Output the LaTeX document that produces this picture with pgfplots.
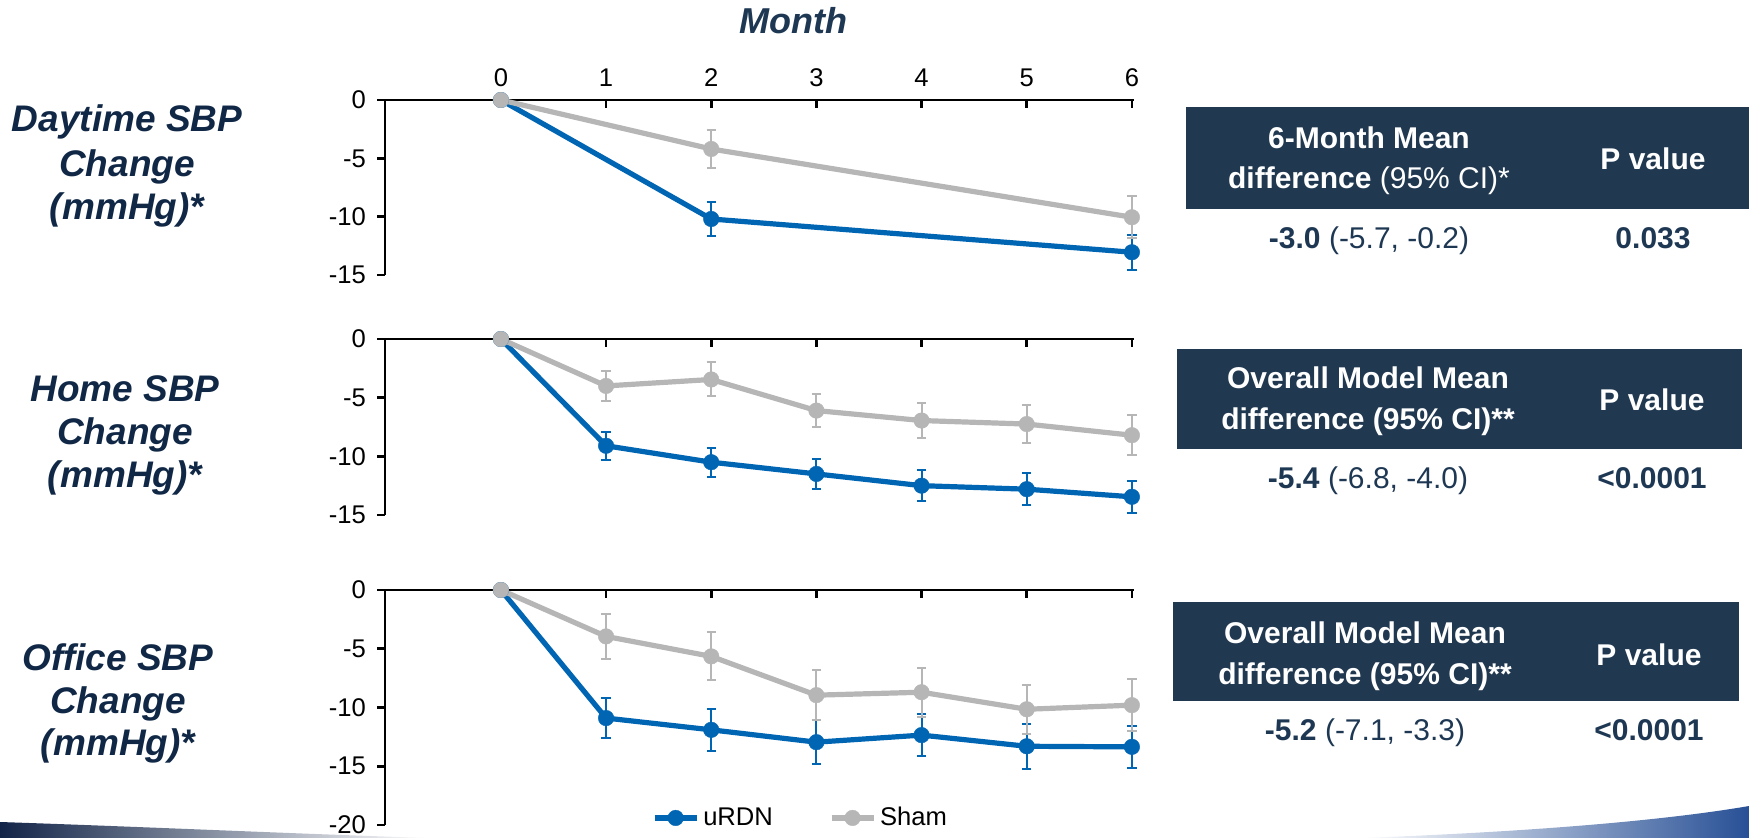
\documentclass[border=0pt]{standalone}
\usepackage{pgfplots}
\usepackage{pgfplotstable}
\pgfplotsset{compat=1.18}
\usepackage{fontspec}
\setmainfont{Liberation Sans}
\definecolor{urdn}{RGB}{0,101,179}
\definecolor{sham}{RGB}{182,182,182}
\definecolor{navy}{RGB}{16,40,70}
\definecolor{navyb}{RGB}{30,56,84}
\definecolor{boxnavy}{RGB}{32,56,80}
\definecolor{swooshA}{RGB}{18,36,72}
\definecolor{swooshB}{RGB}{40,80,150}

% ---------- data: x, mean, half-width of error bar ----------
\pgfplotstableread{
x y e
0 0 0
2 -10.2 1.45
6 -13.05 1.5
}\dayU
\pgfplotstableread{
x y e
0 0 0
2 -4.2 1.65
6 -10.05 1.8
}\dayS
\pgfplotstableread{
x y e
0 0 0
1 -9.1 1.2
2 -10.5 1.25
3 -11.5 1.3
4 -12.5 1.3
5 -12.8 1.35
6 -13.45 1.35
}\homeU
\pgfplotstableread{
x y e
0 0 0
1 -4.0 1.3
2 -3.45 1.45
3 -6.1 1.4
4 -6.95 1.5
5 -7.25 1.6
6 -8.2 1.7
}\homeS
\pgfplotstableread{
x y e
0 0 0
1 -10.9 1.7
2 -11.9 1.8
3 -12.95 1.85
4 -12.35 1.8
5 -13.3 1.9
6 -13.35 1.8
}\offU
\pgfplotstableread{
x y e
0 0 0
1 -3.95 1.95
2 -5.65 2.05
3 -8.95 2.1
4 -8.7 2.1
5 -10.15 2.1
6 -9.8 2.2
}\offS

\pgfplotsset{
  panel/.style={
    scale only axis, width=374.5pt, clip=false,
    xmin=-1.102, xmax=6.02,
    axis x line*=top, axis y line*=left,
    xtick={0,...,6}, xtick align=inside, ytick align=outside,
    major tick length=4pt,
    axis line style={line width=1.4pt, black},
    major tick style={line width=1.3pt, black},
    /pgf/number format/assume math mode=true,
    ticklabel style={font=\fontsize{12.8}{14}\selectfont, text=black},
    yticklabel style={xshift=-2pt},
  },
  ser/.style={color=#1, line width=2.6pt, mark=*, mark size=3.9pt,
    mark options={fill=#1, draw=#1, line width=0.2pt},
    error bars/.cd, y dir=both, y explicit,
    error bar style={line width=1pt, color=#1},
    error mark options={rotate=90, mark size=2.3pt, line width=1pt, color=#1}},
}

\begin{document}
\begin{tikzpicture}[x=0.5pt, y=-0.5pt]
\useasboundingbox (0,0) rectangle (1749,838);

% bottom decorative swoosh
\shade[left color=swooshA, right color=white] (0,838) -- (0,822) .. controls (150,827) and (300,834) .. (430,838) -- cycle;
\shade[left color=white, right color=swooshB] (1360,838) .. controls (1500,833) and (1650,823) .. (1749,806) -- (1749,838) -- cycle;

% title
\node[anchor=base, text=navyb, font=\fontsize{18}{22}\selectfont\bfseries\itshape] at (793,34) {Month};

% left labels
\begin{scope}[every node/.style={anchor=base, text=navy, font=\fontsize{18.5}{22}\selectfont\bfseries\itshape}]
\node at (127,132) {Daytime SBP};
\node at (127,177) {Change};
\node at (127,220) {(mmHg)*};
\node at (125,402) {Home SBP};
\node at (125,445) {Change};
\node at (125,488) {(mmHg)*};
\node at (118,670) {Office SBP};
\node at (118,713) {Change};
\node at (118,755) {(mmHg)*};
\end{scope}

% ---------- panel 1 ----------
\begin{axis}[panel, at={(192.5pt,-137.5pt)}, anchor=south west, height=87.5pt,
  ymin=-15, ymax=0, ytick={0,-5,-10,-15},
  xticklabel style={yshift=3pt}]
\addplot[ser=urdn] table[x=x, y=y, y error=e] {\dayU};
\addplot[ser=sham] table[x=x, y=y, y error=e] {\dayS};
\end{axis}

% ---------- panel 2 ----------
\begin{axis}[panel, at={(192.5pt,-257.5pt)}, anchor=south west, height=88pt,
  ymin=-15, ymax=0, ytick={0,-5,-10,-15}, xticklabels={}]
\addplot[ser=urdn] table[x=x, y=y, y error=e] {\homeU};
\addplot[ser=sham] table[x=x, y=y, y error=e] {\homeS};
\end{axis}

% ---------- panel 3 ----------
\begin{axis}[panel, at={(192.5pt,-412.5pt)}, anchor=south west, height=117.5pt,
  ymin=-20, ymax=0, ytick={0,-5,-10,-15,-20}, xticklabels={},
  legend columns=2,
  legend style={draw=none, fill=none, inner xsep=0pt, inner ysep=0pt,
    at={(0.356,0.03)}, anchor=west,
    font=\fontsize{12.8}{14}\selectfont,
    /tikz/every even column/.append style={column sep=26pt}},
  legend image code/.code={\draw[mark repeat=2, mark phase=2, line width=2.6pt]
     plot coordinates {(0pt,0pt) (10.5pt,0pt) (21pt,0pt)};}]
\addplot[ser=urdn] table[x=x, y=y, y error=e] {\offU};
\addlegendentry{uRDN}
\addplot[ser=sham] table[x=x, y=y, y error=e] {\offS};
\addlegendentry{Sham}
\end{axis}

% ---------- tables ----------
\fill[boxnavy] (1186,107) rectangle (1749,209);
\fill[boxnavy] (1177,349) rectangle (1742,449);
\fill[boxnavy] (1173,602) rectangle (1739,701);
\begin{scope}[every node/.style={anchor=base, font=\fontsize{15}{18}\selectfont}]
\node[text=white] at (1369,149) {\bfseries 6-Month Mean};
\node[text=white] at (1369,189) {\bfseries difference \mdseries(95\% CI)*};
\node[text=white] at (1653,170) {\bfseries P value};
\node[text=navyb] at (1369,249) {\bfseries -3.0 \mdseries(-5.7, -0.2)};
\node[text=navyb] at (1653,249) {\bfseries 0.033};

\node[text=white] at (1368,389) {\bfseries Overall Model Mean};
\node[text=white] at (1368,430) {\bfseries difference (95\% CI)**};
\node[text=white] at (1652,411) {\bfseries P value};
\node[text=navyb] at (1368,489) {\bfseries -5.4 \mdseries(-6.8, -4.0)};
\node[text=navyb] at (1652,489) {\bfseries <0.0001};

\node[text=white] at (1365,643) {\bfseries Overall Model Mean};
\node[text=white] at (1365,684) {\bfseries difference (95\% CI)**};
\node[text=white] at (1649,665) {\bfseries P value};
\node[text=navyb] at (1365,740) {\bfseries -5.2 \mdseries(-7.1, -3.3)};
\node[text=navyb] at (1649,740) {\bfseries <0.0001};
\end{scope}
\end{tikzpicture}
\end{document}
